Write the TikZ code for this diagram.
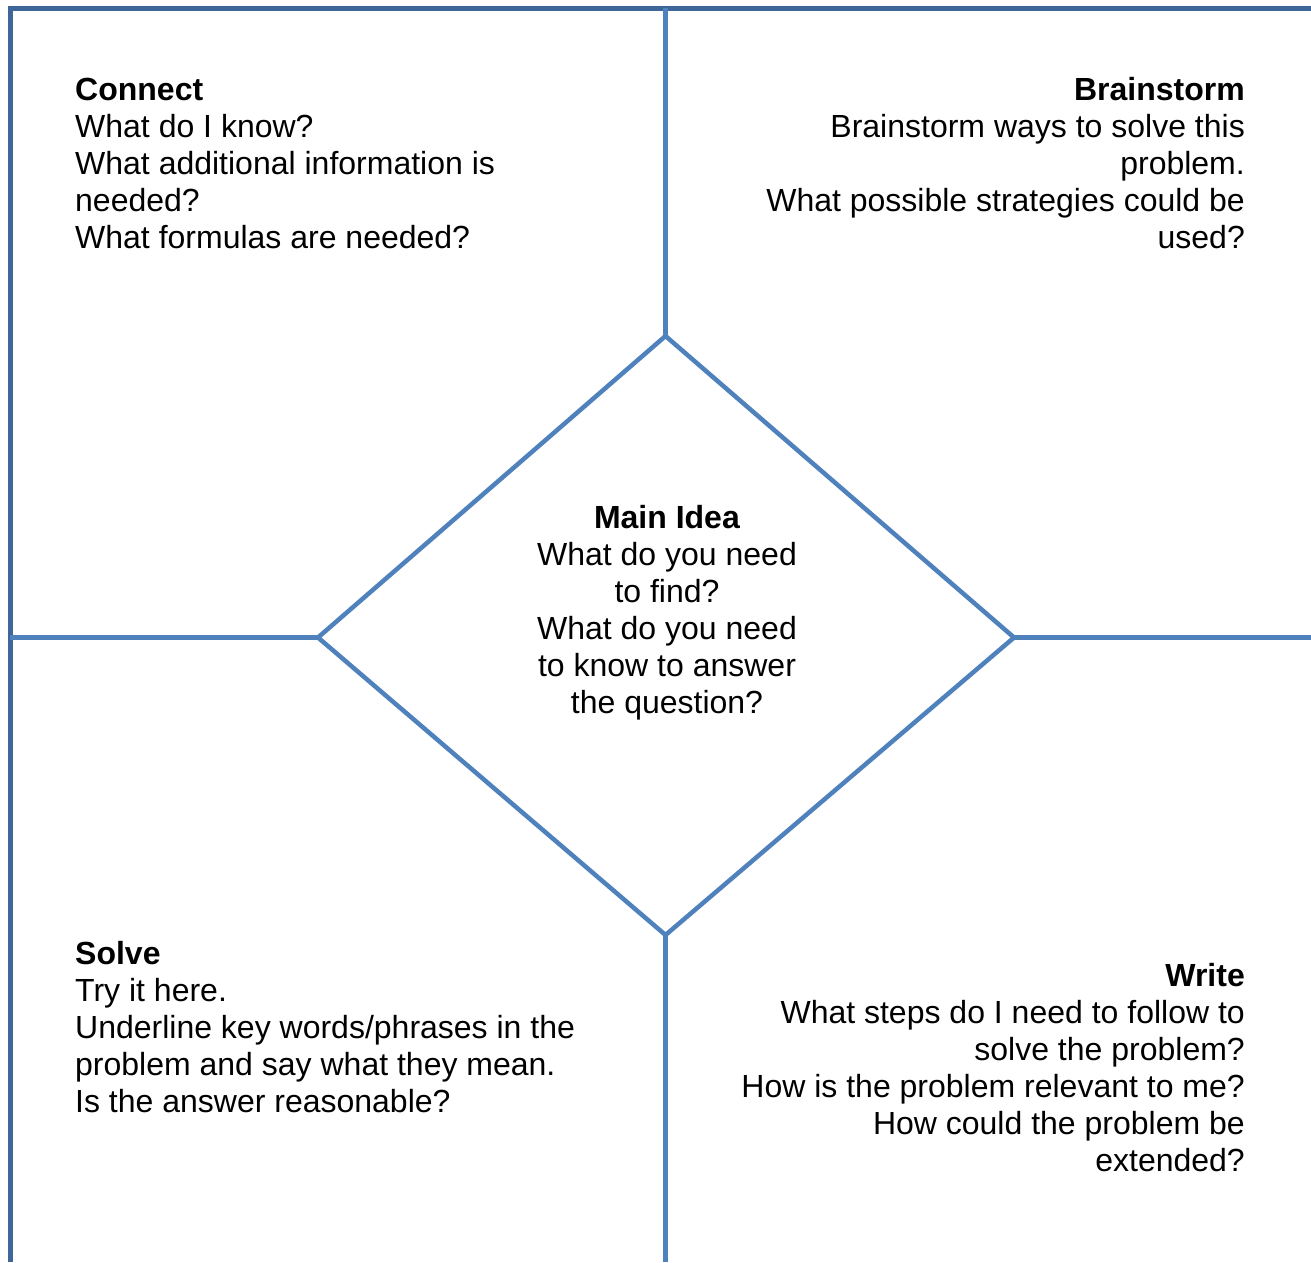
\documentclass[tikz,border=0pt]{standalone}
\usepackage{fontspec}
\setmainfont{Liberation Sans}
\definecolor{frameblue}{HTML}{3F6699}
\definecolor{lineblue}{HTML}{4F81BD}
\begin{document}
\begin{tikzpicture}[x=1pt,y=-1pt,
  frame/.style={draw=frameblue,line width=5pt},
  inner/.style={draw=lineblue,line width=4.5pt},
  txt/.style={inner sep=0pt,font=\fontsize{32}{37}\selectfont}]
\useasboundingbox (0,0) rectangle (1311,1262);
% frame
\coordinate (bl) at (10,1262);
\coordinate (tl) at (10,8);
\coordinate (tr) at (1311,8);
\draw[frame,line join=miter] (bl) -- (tl) -- (tr);
% diamond corners
\coordinate (dt) at (665.5,336);
\coordinate (dl) at (318,637.5);
\coordinate (dr) at (1014,637.5);
\coordinate (db) at (665.5,935);
\coordinate (vt) at (665.5,8);
\coordinate (vb) at (665.5,1262);
\coordinate (hl) at (10,637.5);
\coordinate (hr) at (1311,637.5);
\draw[inner] (vt) -- (dt);
\draw[inner] (db) -- (vb);
\draw[inner] (hl) -- (dl);
\draw[inner] (dr) -- (hr);
\draw[inner,line join=miter] (dt) -- (dr) -- (db) -- (dl) -- cycle;
% texts (base anchor = baseline of last line)
\node[txt,anchor=base west,align=left] (connect) at (75,248)
 {\textbf{Connect}\\What do I know?\\What additional information is\\needed?\\What formulas are needed?};
\node[txt,anchor=base east,align=right] (brain) at (1245,248)
 {\textbf{Brainstorm}\\Brainstorm ways to solve this\\problem.\\What possible strategies could be\\used?};
\node[txt,anchor=base,align=center] (main) at (667,713)
 {\textbf{Main Idea}\\What do you need\\to find?\\What do you need\\to know to answer\\the question?};
\node[txt,anchor=base west,align=left] (solve) at (75,1112)
 {\textbf{Solve}\\Try it here.\\Underline key words/phrases in the\\problem and say what they mean.\\Is the answer reasonable?};
\node[txt,anchor=base east,align=right] (write) at (1245,1171)
 {\textbf{Write}\\What steps do I need to follow to\\solve the problem?\\How is the problem relevant to me?\\How could the problem be\\extended?};
\end{tikzpicture}
\end{document}
